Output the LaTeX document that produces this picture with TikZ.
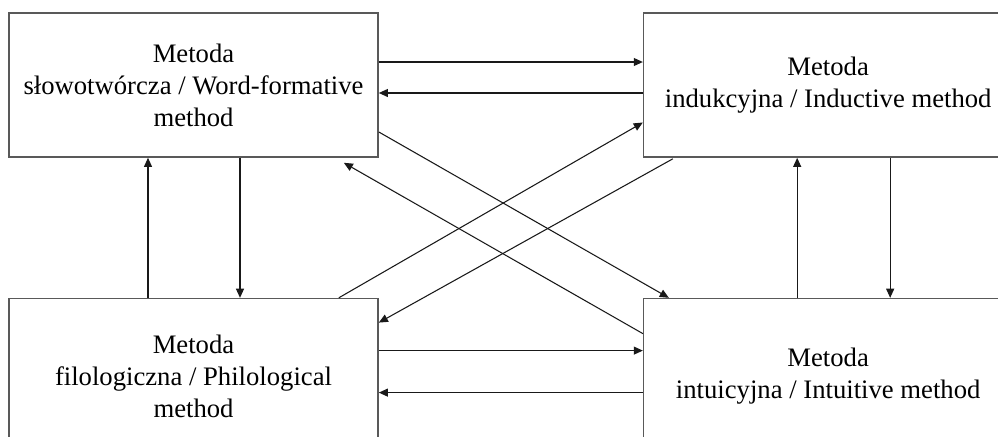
\documentclass[tikz,border=0pt]{standalone}
\usepackage{fontspec}
\setmainfont{Liberation Serif}
\usetikzlibrary{positioning, calc, arrows.meta}

\tikzset{
  method/.style={draw=black!65, line width=0.6pt, align=center,
    minimum width=138.4pt, inner sep=0pt,
    font=\fontsize{10}{12}\selectfont},
  topbox/.style={method, minimum height=54pt},
  botbox/.style={method, minimum height=58.5pt},
  link/.style={->, line width=0.4pt, black!90}
}

\begin{document}
\begin{tikzpicture}[x=0.375pt, y=-0.375pt, >={Triangle[length=3.4pt,width=3pt]}]
      \useasboundingbox (0,0) rectangle (998,436);
      \clip (0,0) rectangle (998,436);
      \node[topbox] (tl) at (193.5,85) {Metoda\\słowotwórcza / Word-formative\\method};
      \node[topbox, right=99pt of tl] (tr) {Metoda\\indukcyjna / Inductive method};
      \node[botbox, below=52.5pt of tl] (bl) {Metoda\\filologiczna / Philological\\method};
      \node[botbox, right=99pt of bl] (br) {Metoda\\intuicyjna / Intuitive method};
      %
      % horizontal links
      \draw[link] ($(tl.east)+(0,-23)$) coordinate (h1) -- (h1 -| tr.west);
      \draw[link] ($(tr.west)+(0,8)$) coordinate (h2) -- (h2 -| tl.east);
      \draw[link] ($(bl.east)+(0,-26)$) coordinate (h3) -- (h3 -| br.west);
      \draw[link] ($(br.west)+(0,16)$) coordinate (h4) -- (h4 -| bl.east);

      % vertical links
      \draw[link] ($(bl.north)+(-45.5,0)$) coordinate (v1) -- (v1 |- tl.south);
      \draw[link] ($(tl.south)+(46.5,0)$) coordinate (v2) -- (v2 |- bl.north);
      \draw[link] ($(br.north)+(-31,0)$) coordinate (v3) -- (v3 |- tr.south);
      \draw[link] ($(tr.south)+(62,0)$) coordinate (v4) -- (v4 |- br.north);

      % crossing links
      \draw[link] ($(tl.east)+(0,47)$) -- ($(br.north west)+(26,0)$);
      \draw[link] ($(br.west)+(0,-43)$) -- ($(tl.south east)+(-35,5)$);
      \draw[link] ($(bl.north east)+(-40,0)$) -- ($(tr.west)+(0,37.5)$);
      \draw[link] ($(tr.south west)+(30,1)$) -- ($(bl.east)+(0,-54)$);
  \end{tikzpicture}
\end{document}
